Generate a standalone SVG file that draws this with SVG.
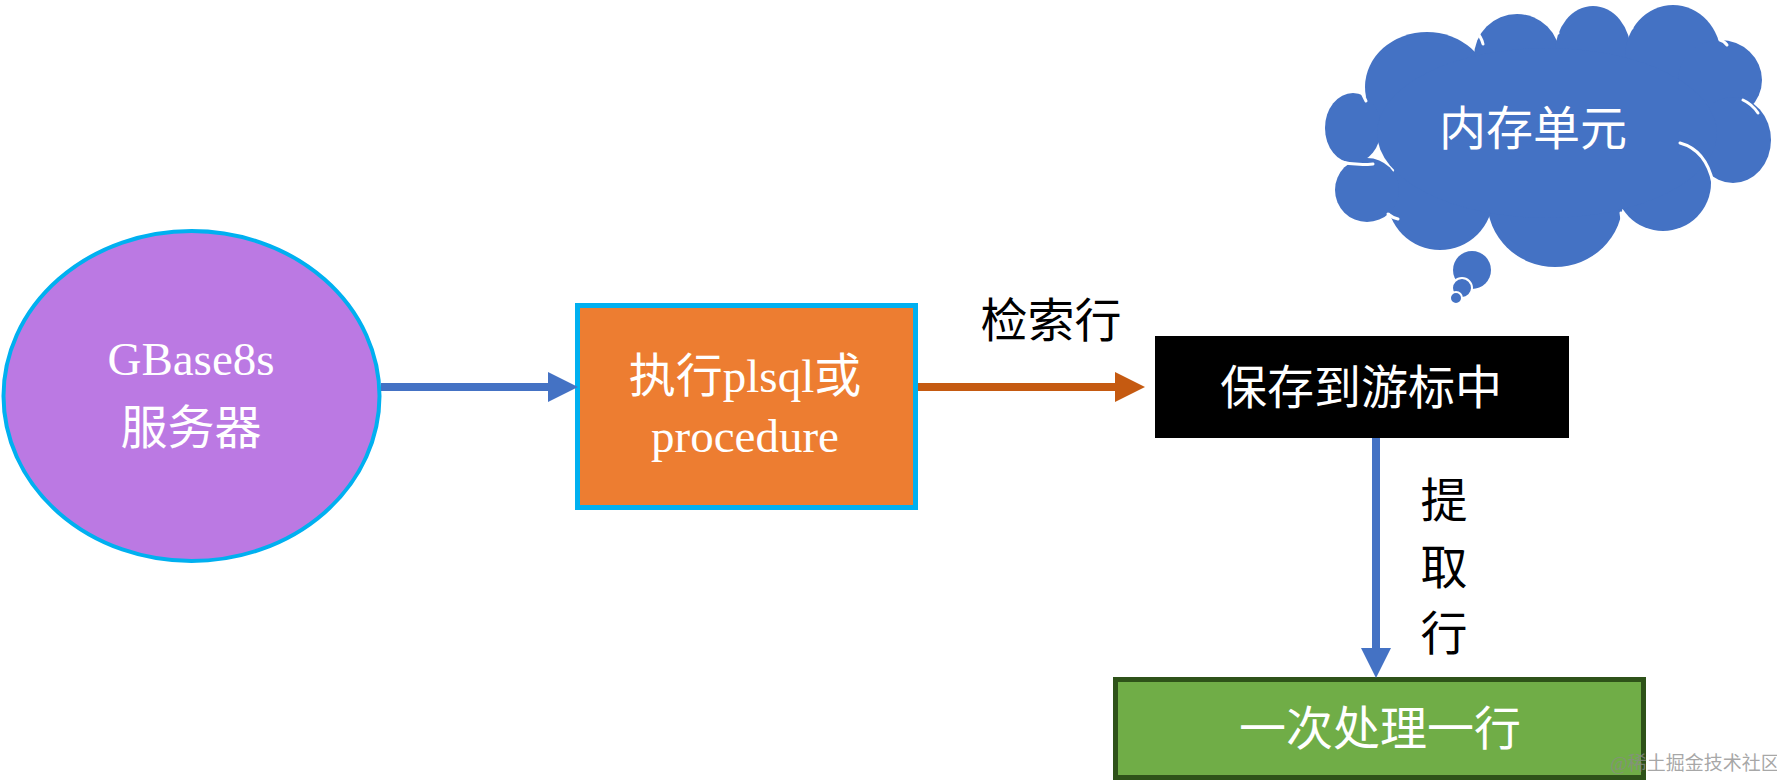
<svg xmlns="http://www.w3.org/2000/svg" width="1777" height="780" viewBox="0 0 1777 780">
<style>
.t{font-family:"Liberation Serif","Noto Sans CJK SC",serif;font-size:47px;text-anchor:middle}
.c{font-family:"Noto Sans CJK SC","Liberation Sans",sans-serif;font-size:47px;text-anchor:middle}
.w{fill:#ffffff}
.k{fill:#000000}
.crease{fill:none;stroke:#ffffff;stroke-width:3;stroke-linecap:round}
.cloud{fill:#4472C4}
.wm{font-family:"Liberation Serif","Noto Sans CJK SC",serif;font-size:19px;fill:#8a8a8a;fill-opacity:0.75;text-anchor:middle}
</style>
<defs>
<marker id="hb" markerUnits="userSpaceOnUse" markerWidth="30" markerHeight="30" refX="0" refY="15" orient="auto">
<path d="M0,0 L30,15 L0,30 z" fill="#4472C4"/>
</marker>
<marker id="ho" markerUnits="userSpaceOnUse" markerWidth="30" markerHeight="30" refX="0" refY="15" orient="auto">
<path d="M0,0 L30,15 L0,30 z" fill="#C55A11"/>
</marker>
</defs>
<rect width="1777" height="780" fill="#ffffff"/>

<g id="cloud">
<g class="cloud">
<ellipse cx="1427" cy="87" rx="62" ry="55"/>
<ellipse cx="1517" cy="57" rx="43" ry="43"/>
<ellipse cx="1593" cy="53" rx="38" ry="47"/>
<ellipse cx="1673" cy="57" rx="48" ry="52"/>
<ellipse cx="1720" cy="80" rx="42" ry="40"/>
<ellipse cx="1733" cy="140" rx="38" ry="43"/>
<ellipse cx="1663" cy="183" rx="48" ry="48"/>
<ellipse cx="1555" cy="200" rx="68" ry="67"/>
<ellipse cx="1440" cy="197" rx="53" ry="53"/>
<ellipse cx="1367" cy="190" rx="32" ry="32"/>
<ellipse cx="1353" cy="128" rx="28" ry="35"/>
<ellipse cx="1547" cy="133" rx="170" ry="85"/>
<circle cx="1472" cy="270" r="19"/>
<circle cx="1462" cy="288" r="10" stroke="#ffffff" stroke-width="2"/>
<circle cx="1456" cy="298" r="6" stroke="#ffffff" stroke-width="2"/>
</g>
<path class="crease" d="M1476,32 Q1481,36 1483,44"/>
<path class="crease" d="M1553,25 Q1556,28 1558,33"/>
<path class="crease" d="M1625,18 Q1629,22 1632,28"/>
<path class="crease" d="M1720,40 Q1724,41 1727,45"/>
<path class="crease" d="M1743,100 Q1752,104 1758,113"/>
<path class="crease" d="M1680,143 Q1706,150 1713,183"/>
<path class="crease" d="M1621,213 Q1623,222 1622,231"/>
<path class="crease" d="M1487,230 Q1489,236 1493,242"/>
<path class="crease" d="M1388,214 Q1393,218 1398,219"/>
<path class="crease" d="M1337,161 Q1355,166 1373,164"/>
<path class="crease" d="M1362,93 Q1364,97 1366,101"/>
<text class="t w" x="1533" y="145">内存单元</text>
</g>

<g id="server">
<ellipse cx="191.5" cy="396" rx="188" ry="165" fill="#BB79E3" stroke="#00B0F0" stroke-width="4"/>
<text class="t w" x="191" y="375">GBase8s</text>
<text class="t w" x="191" y="444">服务器</text>
</g>

<g id="execute">
<rect x="577.5" y="305.5" width="338" height="202" fill="#ED7D31" stroke="#00B0F0" stroke-width="5"/>
<text class="t w" x="745" y="392">执行plsql或</text>
<text class="t w" x="745" y="452">procedure</text>
</g>

<g id="cursor">
<rect x="1155" y="336" width="414" height="102" fill="#000000"/>
<text class="c w" x="1361" y="404">保存到游标中</text>
</g>

<g id="process">
<rect x="1115.5" y="679.5" width="528" height="98" fill="#70AD47" stroke="#2E5219" stroke-width="5"/>
<text class="t w" x="1380" y="745">一次处理一行</text>
</g>

<g id="connectors">
<line x1="381" y1="387" x2="548" y2="387" stroke="#4472C4" stroke-width="8" marker-end="url(#hb)"/>
<line x1="918" y1="387" x2="1115" y2="387" stroke="#C55A11" stroke-width="8" marker-end="url(#ho)"/>
<line x1="1376" y1="438" x2="1376" y2="648" stroke="#4472C4" stroke-width="8" marker-end="url(#hb)"/>
<text class="c k" x="1051" y="337">检索行</text>
<text class="c k" x="1444" y="517">提</text>
<text class="c k" x="1444" y="584">取</text>
<text class="c k" x="1444" y="650">行</text>
</g>

<text class="wm" x="1695" y="770">@稀土掘金技术社区</text>
</svg>
